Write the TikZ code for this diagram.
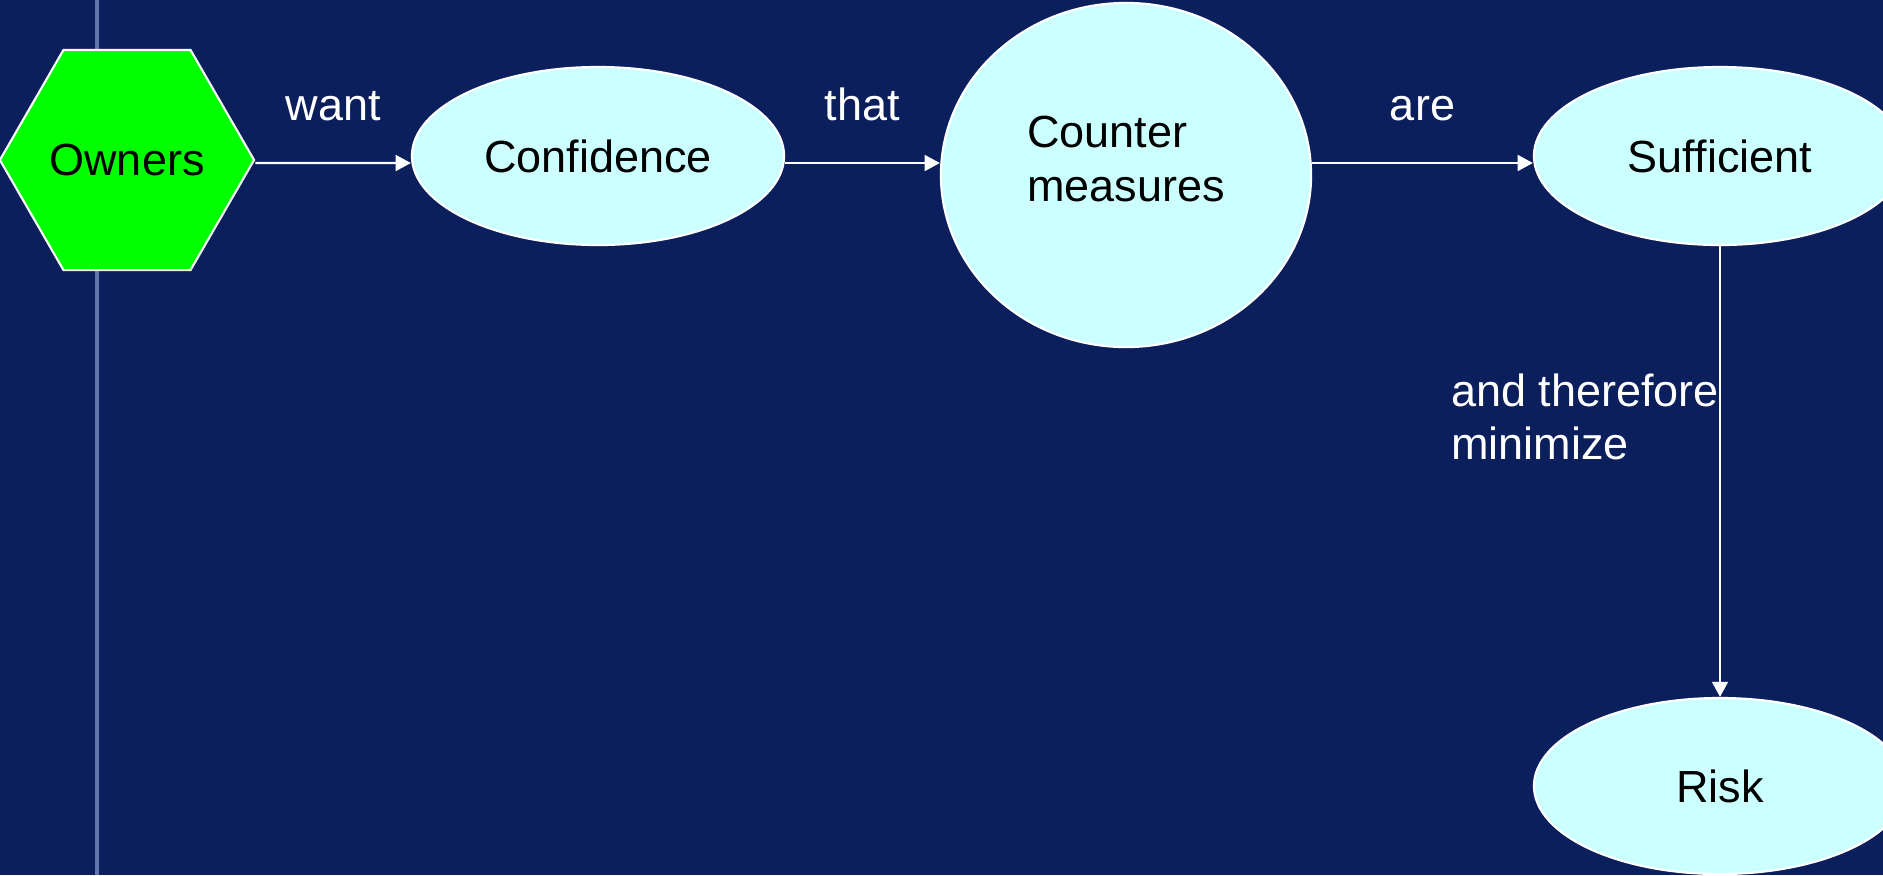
\documentclass[tikz,border=0pt]{standalone}
\usepackage{fontspec}
\setmainfont{Liberation Sans}
\usetikzlibrary{arrows.meta,positioning,shapes.geometric}
\definecolor{slide}{HTML}{0B1F5C}
\definecolor{bubble}{HTML}{CCFFFF}
\definecolor{rulecol}{HTML}{6276AE}

\begin{document}
\begin{tikzpicture}[x=0.01cm,y=-0.01cm,
    every node/.style={font=\fontsize{12.8}{15.1}\selectfont},
    bubble/.style={ellipse,draw=white,fill=bubble,line width=0.6pt,inner sep=0pt,
        minimum width=3.72cm,minimum height=1.78cm},
    link/.style={draw=white,line width=0.6pt,-{Triangle[length=4.3pt,width=4.5pt]}},
    word/.style={text=white,anchor=base,yshift=0.42cm}]
    \fill[slide] (0,0) rectangle (1883,875);
    \useasboundingbox (0,0) rectangle (1883,875);
    \draw[rulecol,line width=0.9pt] (97,0) -- (97,875);

    \node[regular polygon,regular polygon sides=6,minimum size=2.54cm,inner sep=0pt,
        draw=white,fill=green,line width=0.6pt] (own) at (127,160) {Owners};
    \node[bubble] (conf) at (598,156) {Confidence};
    \node[bubble,minimum width=3.70cm,minimum height=3.44cm,
        label={[align=left,yshift=0.16cm]center:Counter\\measures}] (cm) at (1126,175) {};
    \node[bubble] (suff) at (1720,156) {Sufficient};
    \node[bubble,minimum height=1.76cm] (risk) at (1720,786) {Risk};

    % the arrows run a little below the centres
    \coordinate (lane) at ([yshift=-0.07cm]conf.east);
    \draw[link] ([yshift=-0.03cm]own.east) -- node[word] {want} ([yshift=-0.07cm]conf.west);
    \draw[link] (lane) -- node[word] {that} (cm.west |- lane);
    \draw[link] (cm.east |- lane) -- node[word] {are} (suff.west |- lane);
    \draw[link] (suff) -- node[pos=0.378,anchor=east,inner sep=0pt,text=white,align=left]
        {and therefore\\minimize} (risk);
\end{tikzpicture}
\end{document}
